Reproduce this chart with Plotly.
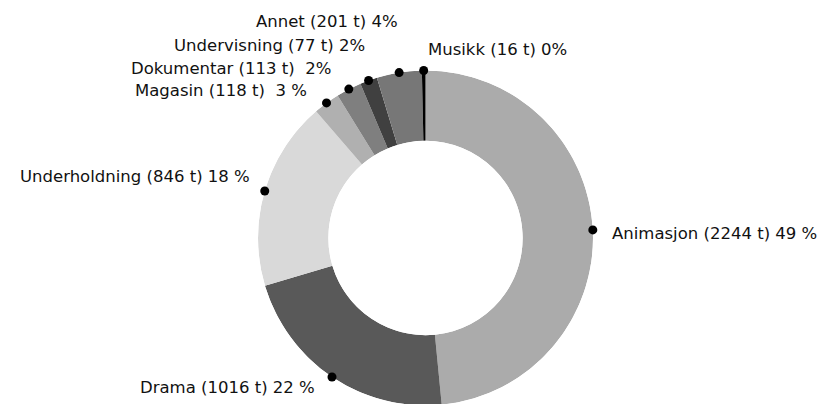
import numpy as np
import plotly.graph_objects as go

# Sendetimer per programkategori (timer), i rekkefølge med klokka fra toppen
categories = ["Animasjon", "Drama", "Underholdning", "Magasin",
              "Dokumentar", "Undervisning", "Annet", "Musikk"]
hours = [2244, 1016, 846, 118, 113, 77, 201, 16]
labels = ["Animasjon (2244 t) 49 %", "Drama (1016 t) 22 %",
          "Underholdning (846 t) 18 %", "Magasin (118 t)  3 %",
          "Dokumentar (113 t)  2%", "Undervisning (77 t) 2%",
          "Annet (201 t) 4%", "Musikk (16 t) 0%"]

colors = ["#ababab", "#595959", "#d9d9d9", "#b0b0b0",
          "#7f7f7f", "#404040", "#777777", "#000000"]

# label placement: offset (px) from the dot, and which side the text hangs on
label_offsets = [(17, 4), (-15, 11), (-13, -14), (-18, -12),
                 (-16, -21), (-2, -35), (1, -51), (2, -21)]
label_anchor = ["left", "right", "right", "right",
                "right", "right", "right", "left"]

W, H = 837, 404
# page body has an 8px margin, so figure coords are screen coords minus 8
CX, CY, R = 417.5, 230.0, 167.5
HOLE = 0.58

vals = np.array(hours, dtype=float)
widths = vals / vals.sum() * 360.0
mids = np.cumsum(widths) - widths / 2

fig = go.Figure()
fig.add_trace(go.Barpolar(
    r=[1] * len(hours),
    theta=mids,
    width=widths,
    marker=dict(color=colors, line=dict(width=0)),
    hoverinfo="skip",
))
fig.add_trace(go.Scatterpolar(
    r=[1] * len(hours),
    theta=mids,
    mode="markers",
    marker=dict(color="black", size=9),
    cliponaxis=False,
    hoverinfo="skip",
))

annotations = []
rad = np.deg2rad(mids)
for i, lab in enumerate(labels):
    px = CX + R * np.sin(rad[i]) + label_offsets[i][0]
    py = CY - R * np.cos(rad[i]) + label_offsets[i][1]
    annotations.append(dict(
        x=px / W, y=1 - py / H, xref="paper", yref="paper",
        text=lab, showarrow=False, xanchor=label_anchor[i], yanchor="middle",
        font=dict(family="DejaVu Sans", size=16.5, color="#111111"),
    ))

fig.update_layout(
    width=W, height=H,
    margin=dict(l=0, r=0, t=0, b=0),
    paper_bgcolor="white",
    showlegend=False,
    annotations=annotations,
    polar=dict(
        domain=dict(x=[(CX - R) / W, (CX + R) / W],
                    y=[max(0, (H - CY - R) / H), (H - CY + R) / H]),
        hole=HOLE,
        bgcolor="white",
        bargap=0,
        radialaxis=dict(range=[0, 1], visible=False),
        angularaxis=dict(rotation=90, direction="clockwise", visible=False),
    ),
)

fig.write_html("out.html")
